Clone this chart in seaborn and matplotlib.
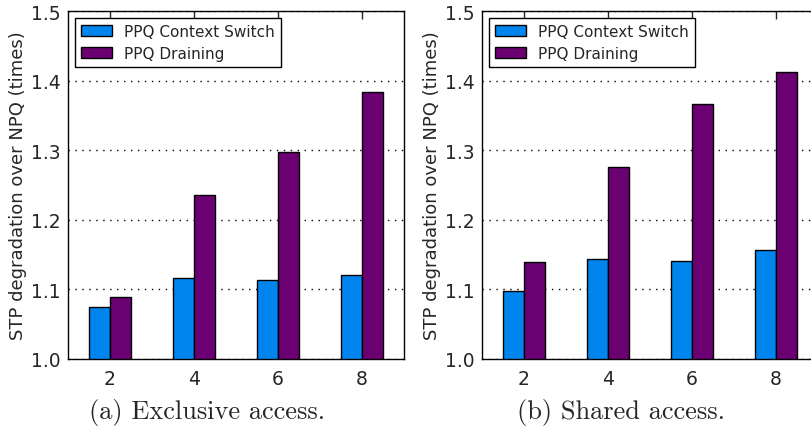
import matplotlib
matplotlib.use("Agg")
import matplotlib.pyplot as plt
import seaborn as sns
import pandas as pd

categories = ["2", "4", "6", "8"]
series = ["PPQ Context Switch", "PPQ Draining"]
exclusive_ctx = [1.075, 1.116, 1.113, 1.120]
exclusive_drain = [1.089, 1.235, 1.298, 1.384]
shared_ctx = [1.098, 1.144, 1.141, 1.156]
shared_drain = [1.140, 1.276, 1.366, 1.413]
yticks = [1.0, 1.1, 1.2, 1.3, 1.4, 1.5]
ylabel = "STP degradation over NPQ (times)"
captions = ["(a) Exclusive access.", "(b) Shared access."]
colors = ["#0084ee", "#6b0072"]

sns.set_style("ticks")
plt.rcParams["font.family"] = ["DejaVu Sans"]

def make_df(ctx, drain):
    rows = []
    for c, v in zip(categories, ctx):
        rows.append({"cat": c, "series": series[0], "value": v})
    for c, v in zip(categories, drain):
        rows.append({"cat": c, "series": series[1], "value": v})
    return pd.DataFrame(rows)

fig = plt.figure(figsize=(8.11, 4.27), dpi=100)
W, H = 811, 427
ax_w = 336 / W
ax_h = 348 / H
y0 = (H - 360) / H
positions = [68 / W, 482 / W]
datasets = [(exclusive_ctx, exclusive_drain), (shared_ctx, shared_drain)]

for i, (xpos, (ctx, drain)) in enumerate(zip(positions, datasets)):
    ax = fig.add_axes([xpos, y0, ax_w, ax_h])
    df = make_df(ctx, drain)
    sns.barplot(data=df, x="cat", y="value", hue="series", order=categories,
                hue_order=series, palette=colors, width=0.5, gap=0,
                edgecolor="black", linewidth=1.0, saturation=1, ax=ax,
                legend=False)
    ax.set_xlim(-0.5, 3.5)
    ax.set_ylim(1.0, 1.5)
    ax.set_yticks(yticks)
    ax.set_yticklabels([f"{t:.1f}" for t in yticks])
    ax.yaxis.grid(True, linestyle=(0, (1, 4)), color="black", linewidth=1.0)
    ax.xaxis.grid(False)
    ax.set_axisbelow(True)
    ax.tick_params(axis="x", direction="in", labelsize=13.5, top=True,
                   length=6, width=1, pad=7)
    ax.tick_params(axis="y", direction="in", labelsize=13.5, length=0, pad=5)
    for s in ax.spines.values():
        s.set_visible(True)
        s.set_color("black")
        s.set_linewidth(1.0)
    ax.set_xlabel("")
    ax.set_ylabel(ylabel, fontsize=13, labelpad=3)
    handles = [plt.Rectangle((0, 0), 1, 1, facecolor=c, edgecolor="black", linewidth=1)
               for c in colors]
    leg = ax.legend(handles, series, loc="upper left", fontsize=11,
                    fancybox=False, frameon=True, framealpha=1,
                    edgecolor="black", borderaxespad=0.45, handlelength=2.0,
                    handletextpad=0.8, borderpad=0.4, labelspacing=0.45)
    leg.get_frame().set_linewidth(1.0)
    fig.text(xpos + ax_w * 0.415, 1 - 413 / H, captions[i], fontsize=19,
             family="cmr10", ha="center", va="center")

fig.savefig("out.png", dpi=100)
